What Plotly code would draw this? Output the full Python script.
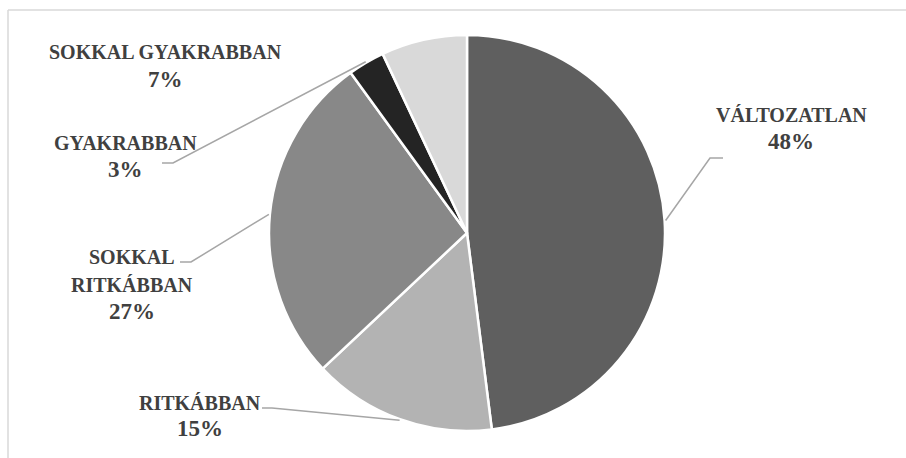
import math
import plotly.graph_objects as go

# ---- data ----
labels = ["VÁLTOZATLAN", "RITKÁBBAN", "SOKKAL RITKÁBBAN", "GYAKRABBAN", "SOKKAL GYAKRABBAN"]
values = [48, 15, 27, 3, 7]
colors = ["#5f5f5f", "#b3b3b3", "#888888", "#242424", "#d9d9d9"]
name_lines = [["VÁLTOZATLAN"], ["RITKÁBBAN"], ["SOKKAL", "RITKÁBBAN"], ["GYAKRABBAN"], ["SOKKAL GYAKRABBAN"]]

# ---- layout constants (pixels) ----
W, H = 906, 458
CX, CY, R = 467, 233, 198
TXT = "#404040"
FONT = "Liberation Serif"
NAME_SIZE, PCT_SIZE = 20, 23
# label text anchor positions (x center, y of each name line, y of pct)
label_pos = [
    (791, [115], 142),
    (200, [403], 428),
    (132, [257, 285], 311),
    (126, [143], 169),
    (165, [52], 79),
]
# leader elbows (elbow point, end point) or None
leaders = [
    ((710, 158), (723, 158)),
    ((272, 408), (262, 408)),
    ((191, 262), (180, 262)),
    ((173, 163), (162, 163)),
    None,
]


def px(x):
    return x / W


def py(y):
    return 1 - y / H


fig = go.Figure(go.Pie(
    labels=labels, values=values, sort=False, direction="clockwise",
    marker=dict(colors=colors, line=dict(color="white", width=2.5)),
    textinfo="none", hoverinfo="label+percent", showlegend=False,
    domain=dict(x=[px(CX - R), px(CX + R)], y=[py(CY + R), py(CY - R)]),
))

annotations = []
shapes = []
total = sum(values)
cum = 0
for i, v in enumerate(values):
    mid = (cum + v / 2) / total * 2 * math.pi
    cum += v
    lx, lys, pyy = label_pos[i]
    for line, ly in zip(name_lines[i], lys):
        annotations.append(dict(x=px(lx), y=py(ly), xref="paper", yref="paper", text=f"<b>{line}</b>",
                                showarrow=False, xanchor="center", yanchor="middle",
                                font=dict(family=FONT, size=NAME_SIZE, color=TXT)))
    annotations.append(dict(x=px(lx), y=py(pyy), xref="paper", yref="paper", text=f"<b>{v}%</b>",
                            showarrow=False, xanchor="center", yanchor="middle",
                            font=dict(family=FONT, size=PCT_SIZE, color=TXT)))
    if leaders[i]:
        sx = CX + (R + 1) * math.sin(mid)
        sy = CY - (R + 1) * math.cos(mid)
        (ex, ey), (fx, fy) = leaders[i]
        shapes.append(dict(type="path", xref="paper", yref="paper",
                           path=f"M {px(sx)},{py(sy)} L {px(ex)},{py(ey)} L {px(fx)},{py(fy)}",
                           line=dict(color="#a6a6a6", width=1.5)))

# chart frame (top and left visible)
shapes.append(dict(type="line", xref="paper", yref="paper", x0=px(8), y0=py(10), x1=px(W + 5), y1=py(10),
                   line=dict(color="#d9d9d9", width=1.5)))
shapes.append(dict(type="line", xref="paper", yref="paper", x0=px(8), y0=py(10), x1=px(8), y1=py(H + 5),
                   line=dict(color="#d9d9d9", width=1.5)))

fig.update_layout(width=W, height=H, margin=dict(l=0, r=0, t=0, b=0),
                  paper_bgcolor="white", plot_bgcolor="white",
                  font=dict(family=FONT),
                  annotations=annotations, shapes=shapes)
fig.write_html("out.html")
